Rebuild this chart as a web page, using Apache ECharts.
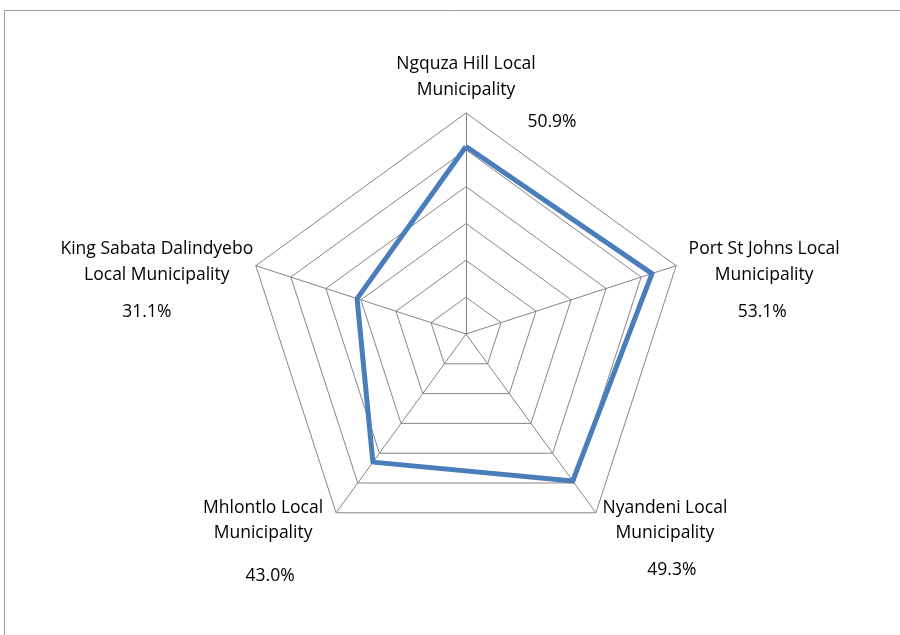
<!DOCTYPE html>
<html>
<head>
<meta charset="utf-8">
<script src="https://cdn.jsdelivr.net/npm/echarts@6/dist/echarts.min.js"></script>
<style>
html,body{margin:0;padding:0;background:#fff;}
#chart{width:900px;height:635px;}
</style>
</head>
<body>
<div id="chart"></div>
<script>
// Data
const categories = [
  'Ngquza Hill Local Municipality',
  'Port St Johns Local Municipality',
  'Nyandeni Local Municipality',
  'Mhlontlo Local Municipality',
  'King Sabata Dalindyebo Local Municipality'
];
const categoryLines = [
  ['Ngquza Hill Local', 'Municipality'],
  ['Port St Johns Local', 'Municipality'],
  ['Nyandeni Local', 'Municipality'],
  ['Mhlontlo Local', 'Municipality'],
  ['King Sabata Dalindyebo', 'Local Municipality']
];
const values = [50.9, 53.1, 49.3, 43.0, 31.1];
const axisMax = 60;
const ringCount = 6;

// Layout (label offsets from each axis end, in px)
const CX = 466, CY = 334, R = 221;
const FONT = '"Open Sans"';
const FS = 17.5;
const nameOffsets = [
  { dx: 0,   y1: -49, y2: -23, vdx: 86,   vdy: 9 },
  { dx: 88,  y1: -17, y2: 9,   vdx: 86,   vdy: 46 },
  { dx: 69,  y1: -5,  y2: 20,  vdx: 76,   vdy: 57 },
  { dx: -73, y1: -5,  y2: 20,  vdx: -66,  vdy: 63 },
  { dx: -99, y1: -17, y2: 9,   vdx: -109, vdy: 46 }
];

// ECharts radar places indicators counter-clockwise from the top;
// the reference goes clockwise, so reorder: 0,4,3,2,1
const order = [0, 4, 3, 2, 1];
const indicators = order.map(i => ({ name: categories[i], max: axisMax, min: 0 }));
const seriesValues = order.map(i => values[i]);

const chart = echarts.init(document.getElementById('chart'), null, { renderer: 'canvas' });

// axis end point for category i (clockwise from top)
function axisEnd(i) {
  const ang = Math.PI / 2 - i * 2 * Math.PI / categories.length;
  return [CX + R * Math.cos(ang), CY - R * Math.sin(ang)];
}

const graphics = [];
graphics.push({
  type: 'rect',
  shape: { x: 4.5, y: 10.5, width: 1000, height: 1000 },
  style: { fill: 'none', stroke: '#9a9a9a', lineWidth: 1 },
  silent: true
});
categories.forEach((c, i) => {
  const [ex, ey] = axisEnd(i);
  const o = nameOffsets[i];
  const txtStyle = (t, x, y) => ({
    type: 'text',
    x: x, y: y,
    style: { text: t, fill: '#000', font: FS + 'px ' + FONT, textAlign: 'center', textVerticalAlign: 'middle' },
    silent: true
  });
  graphics.push(txtStyle(categoryLines[i][0], ex + o.dx, ey + o.y1));
  graphics.push(txtStyle(categoryLines[i][1], ex + o.dx, ey + o.y2));
  graphics.push(txtStyle(values[i].toFixed(1) + '%', ex + o.vdx, ey + o.vdy));
});

chart.setOption({
  animation: false,
  backgroundColor: '#fff',
  radar: {
    center: [CX, CY],
    radius: R,
    startAngle: 90,
    shape: 'polygon',
    splitNumber: ringCount,
    indicator: indicators,
    axisName: { show: false },
    axisLine: { lineStyle: { color: '#868686', width: 1 } },
    splitLine: { lineStyle: { color: '#868686', width: 1 } },
    splitArea: { show: false },
    axisTick: { show: false },
    axisLabel: { show: false }
  },
  series: [{
    type: 'radar',
    symbol: 'none',
    lineStyle: { color: '#4A7EBB', width: 5 },
    data: [{ value: seriesValues, name: 'Share' }]
  }],
  graphic: graphics
});
</script>
</body>
</html>
